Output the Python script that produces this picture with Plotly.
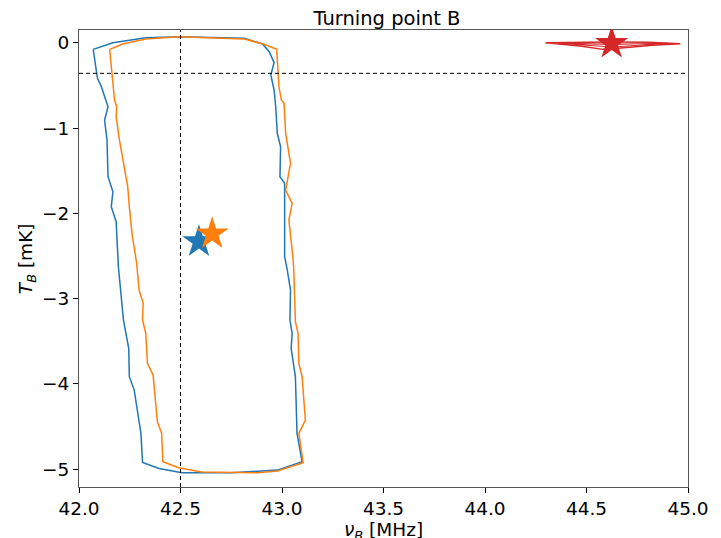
import plotly.graph_objects as go

# ---- data ----
blue_x = [42.070, 42.091, 42.110, 42.143, 42.126, 42.138, 42.143, 42.167, 42.159, 42.183, 42.194,
          42.219, 42.245, 42.248, 42.272, 42.305, 42.313, 42.394, 42.507, 42.750, 42.977, 43.099,
          43.074, 43.066, 43.045, 43.050, 43.039, 43.042, 43.026, 43.013, 43.013, 42.990, 42.993,
          42.977, 42.969, 42.961, 42.945, 42.961, 42.937, 42.904, 42.815, 42.491, 42.329, 42.167, 42.070]
blue_y = [-0.078, -0.418, -0.515, -0.750, -0.906, -1.140, -1.571, -1.747, -1.922, -2.098, -2.626,
          -3.251, -3.583, -3.915, -4.072, -4.579, -4.919, -4.990, -5.041, -5.041, -5.010, -4.912,
          -4.579, -3.915, -3.583, -3.407, -3.251, -2.899, -2.665, -2.509, -1.648, -1.571, -1.219,
          -1.062, -0.750, -0.554, -0.379, -0.234, -0.105, -0.015, 0.051, 0.070, 0.059, 0.000, -0.078]

orange_x = [42.151, 42.167, 42.175, 42.186, 42.183, 42.199, 42.224, 42.240, 42.248, 42.261, 42.284,
            42.296, 42.316, 42.313, 42.329, 42.337, 42.365, 42.381, 42.386, 42.407, 42.413, 42.491,
            42.604, 42.880, 42.977, 43.104, 43.083, 43.115, 43.110, 43.099, 43.083, 43.079, 43.066,
            43.063, 43.058, 43.055, 43.034, 43.050, 43.018, 43.042, 43.018, 43.010, 42.997, 42.985,
            42.977, 42.974, 42.912, 42.815, 42.491, 42.329, 42.215, 42.151]
orange_y = [-0.078, -0.437, -0.672, -0.750, -0.867, -1.140, -1.453, -1.688, -1.922, -2.235, -2.586,
            -2.899, -3.055, -3.251, -3.407, -3.759, -3.896, -4.384, -4.443, -4.579, -4.912, -4.982,
            -5.033, -5.041, -5.021, -4.924, -4.579, -4.423, -4.247, -3.915, -3.759, -3.407, -3.271,
            -2.899, -2.665, -2.547, -2.079, -1.883, -1.727, -1.414, -1.062, -0.711, -0.672, -0.515,
            -0.234, -0.078, -0.019, 0.043, 0.070, 0.043, -0.015, -0.078]

red_x = [44.298, 44.45, 44.62, 44.80, 44.962, 44.825, 44.679, 44.627, 44.581, 44.468, 44.298]
red_y = [0.000, 0.006, 0.008, 0.006, -0.012, -0.031, -0.066, -0.070, -0.078, -0.039, 0.000]
red_inner_x = [44.36, 44.50, 44.627, 44.76, 44.90, 44.76, 44.627, 44.50, 44.36]
red_inner_y = [-0.005, -0.012, -0.02, -0.012, -0.008, -0.030, -0.050, -0.030, -0.005]

star_x = [42.591, 42.656, 44.624]
star_y = [-2.333, -2.240, -0.007]
colors = ["#1f77b4", "#ff7f0e", "#d62728"]

vline_x = 42.5
hline_y = -0.359

x_range = [42.0, 45.0]
y_range = [-5.208, 0.149]
x_ticks = [42.0, 42.5, 43.0, 43.5, 44.0, 44.5, 45.0]
y_ticks = [0, -1, -2, -3, -4, -5]

FONT = "DejaVu Sans"
TICK_SIZE = 18.5

fig = go.Figure()
fig.add_trace(go.Scatter(x=blue_x, y=blue_y, mode="lines", line=dict(color=colors[0], width=1.5)))
fig.add_trace(go.Scatter(x=orange_x, y=orange_y, mode="lines", line=dict(color=colors[1], width=1.5)))
fig.add_trace(go.Scatter(x=red_x, y=red_y, mode="lines", line=dict(color=colors[2], width=1.5)))
fig.add_trace(go.Scatter(x=red_inner_x, y=red_inner_y, mode="lines", line=dict(color=colors[2], width=1.2)))

fig.add_trace(go.Scatter(x=[vline_x, vline_x], y=y_range, mode="lines",
                         line=dict(color="black", width=1, dash="4px,3px")))
fig.add_trace(go.Scatter(x=x_range, y=[hline_y, hline_y], mode="lines",
                         line=dict(color="black", width=1, dash="4px,3px")))

for i in range(3):
    fig.add_trace(go.Scatter(x=[star_x[i]], y=[star_y[i]], mode="markers",
                             marker=dict(symbol="star", size=25, color=colors[i],
                                         line=dict(width=0))))

fig.update_layout(
    width=721, height=538,
    margin=dict(l=79, r=25, t=30, b=51),
    plot_bgcolor="white", paper_bgcolor="white",
    showlegend=False,
    font=dict(family=FONT, size=TICK_SIZE, color="black"),
    title=dict(text="Turning point B", x=387 / 721, xanchor="center",
               y=1 - 18 / 538, yanchor="middle", yref="container",
               font=dict(family=FONT, size=19.5, color="black")),
)
fig.update_xaxes(range=x_range, tickvals=x_ticks, ticktext=[f"{v:.1f}" for v in x_ticks],
                 showgrid=False, zeroline=False, showline=True, linecolor="#555", linewidth=1,
                 mirror=True, ticks="outside", ticklen=5, tickcolor="black",
                 tickfont=dict(family=FONT, size=TICK_SIZE))
fig.update_yaxes(range=y_range, tickvals=y_ticks, ticktext=["0", "\u22121", "\u22122", "\u22123", "\u22124", "\u22125"],
                 showgrid=False, zeroline=False, showline=True, linecolor="#555", linewidth=1,
                 mirror=True, ticks="outside", ticklen=5, tickcolor="black",
                 tickfont=dict(family=FONT, size=TICK_SIZE))

fig.add_annotation(text="<i>\u03bd</i><sub><i>B</i></sub> [MHz]", xref="paper", yref="paper",
                   x=0.5, y=-(531 - 487) / 457, xanchor="center", yanchor="middle",
                   showarrow=False, font=dict(family=FONT, size=TICK_SIZE))
fig.add_annotation(text="<i>T</i><sub><i>B</i></sub> [mK]", xref="paper", yref="paper",
                   x=-(79 - 26) / 617, y=0.5, xanchor="center", yanchor="middle", textangle=-90,
                   showarrow=False, font=dict(family=FONT, size=TICK_SIZE))

fig.write_html("out.html")
